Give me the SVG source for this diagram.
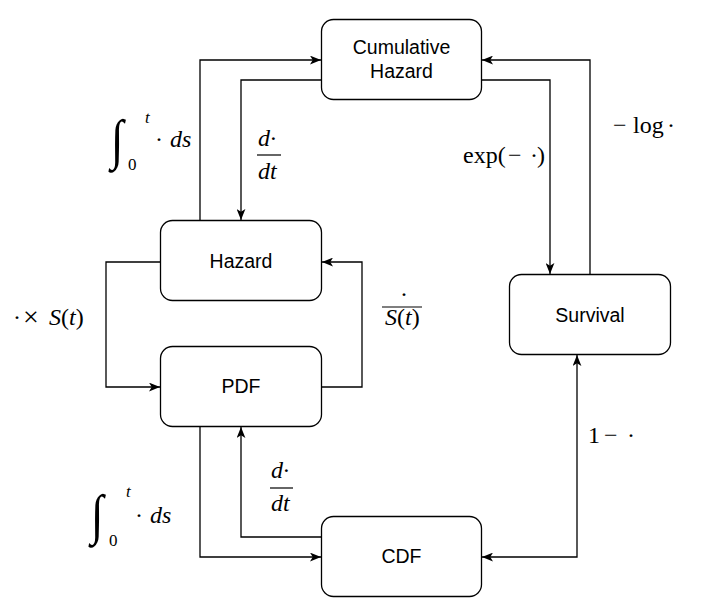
<svg xmlns="http://www.w3.org/2000/svg" width="717" height="602" viewBox="0 0 717 602">
<style>
.box{fill:#fff;stroke:#000;stroke-width:1.3}
.lbl{font-family:"Liberation Sans",Arial,sans-serif;font-size:19.5px;fill:#000;text-anchor:middle}
.edge{fill:none;stroke:#000;stroke-width:1.3}
.m{font-family:"Liberation Serif","Times New Roman",serif;font-size:24px;fill:#000}
.i{font-style:italic}
.sm{font-size:17px}
.big{font-size:28px}
.int{font-family:"Liberation Serif","Times New Roman",serif;font-size:44px;font-style:italic;fill:#000}
</style>
<defs>
<marker id="arr" viewBox="0 0 10 8" refX="10" refY="4" markerWidth="11" markerHeight="9" markerUnits="userSpaceOnUse" orient="auto-start-reverse">
<path d="M0,0 L10,4 L0,8 L2.5,4 Z" fill="#000"/>
</marker>
</defs>
<rect width="717" height="602" fill="#fff"/>
<g id="connectors">
<path class="edge" d="M200,220 V60 H321" marker-end="url(#arr)"/>
<path class="edge" d="M321,80 H241 V220" marker-end="url(#arr)"/>
<path class="edge" d="M482,80 H550 V274" marker-end="url(#arr)"/>
<path class="edge" d="M590,274 V60 H482" marker-end="url(#arr)"/>
<path class="edge" d="M160,262 H106 V387 H160" marker-end="url(#arr)"/>
<path class="edge" d="M322,387 H362 V262 H322" marker-end="url(#arr)"/>
<path class="edge" d="M200,427 V557 H321" marker-end="url(#arr)"/>
<path class="edge" d="M321,537 H241 V427" marker-end="url(#arr)"/>
<path class="edge" d="M482,557 H577 V355" marker-start="url(#arr)" marker-end="url(#arr)"/>
</g>
<g id="labels">
<g id="lbl-int-top">
<text class="int" transform="translate(111,158) scale(1.05,1.25)">∫</text>
<text class="m i sm" x="145" y="123">t</text>
<text class="m sm" x="128" y="170">0</text>
<text class="m" x="155" y="147">·</text>
<text class="m i" x="170" y="147">ds</text>
</g>
<g id="lbl-ddt-top">
<text class="m i" x="258" y="146">d·</text>
<line x1="257" y1="155" x2="281" y2="155" stroke="#000" stroke-width="1.2"/>
<text class="m i" x="258" y="179">dt</text>
</g>
<g id="lbl-exp">
<text class="m" x="463" y="163">exp(</text>
<text class="m" x="508" y="163">−</text>
<text class="m" x="530" y="163">·</text>
<text class="m" x="537" y="163">)</text>
</g>
<g id="lbl-log">
<text class="m" x="613" y="133">−</text>
<text class="m" x="633" y="133">log</text>
<text class="m" x="667" y="133">·</text>
</g>
<g id="lbl-times">
<text class="m" x="13" y="325">·</text>
<text class="m big" x="23" y="326">×</text>
<text class="m" x="49" y="325"><tspan class="i">S</tspan>(<tspan class="i">t</tspan>)</text>
</g>
<g id="lbl-div">
<text class="m" x="400" y="302">·</text>
<line x1="382" y1="307" x2="422" y2="307" stroke="#000" stroke-width="1.2"/>
<text class="m" x="385" y="325"><tspan class="i">S</tspan>(<tspan class="i">t</tspan>)</text>
</g>
<g id="lbl-int-bot">
<text class="int" transform="translate(91,533) scale(1.05,1.25)">∫</text>
<text class="m i sm" x="126" y="497">t</text>
<text class="m sm" x="109" y="546">0</text>
<text class="m" x="135" y="523">·</text>
<text class="m i" x="150" y="523">ds</text>
</g>
<g id="lbl-ddt-bot">
<text class="m i" x="271" y="478">d·</text>
<line x1="270" y1="488" x2="293" y2="488" stroke="#000" stroke-width="1.2"/>
<text class="m i" x="271" y="511">dt</text>
</g>
<g id="lbl-one">
<text class="m" x="588" y="443">1</text>
<text class="m" x="604" y="443">−</text>
<text class="m" x="627" y="443">·</text>
</g>
</g>
<g id="node-cumhaz">
<rect class="box" x="321.5" y="19.5" width="160" height="80" rx="12"/>
<text class="lbl" x="401.5" y="54">Cumulative</text>
<text class="lbl" x="401.5" y="78">Hazard</text>
</g>
<g id="node-hazard">
<rect class="box" x="160.5" y="220.5" width="161" height="80" rx="12"/>
<text class="lbl" x="241" y="268">Hazard</text>
</g>
<g id="node-pdf">
<rect class="box" x="160.5" y="346.5" width="161" height="80" rx="12"/>
<text class="lbl" x="241" y="393">PDF</text>
</g>
<g id="node-cdf">
<rect class="box" x="321.5" y="516.5" width="160" height="80" rx="12"/>
<text class="lbl" x="401.5" y="563">CDF</text>
</g>
<g id="node-survival">
<rect class="box" x="509.5" y="274.5" width="161" height="80" rx="12"/>
<text class="lbl" x="590" y="322">Survival</text>
</g>
</svg>
